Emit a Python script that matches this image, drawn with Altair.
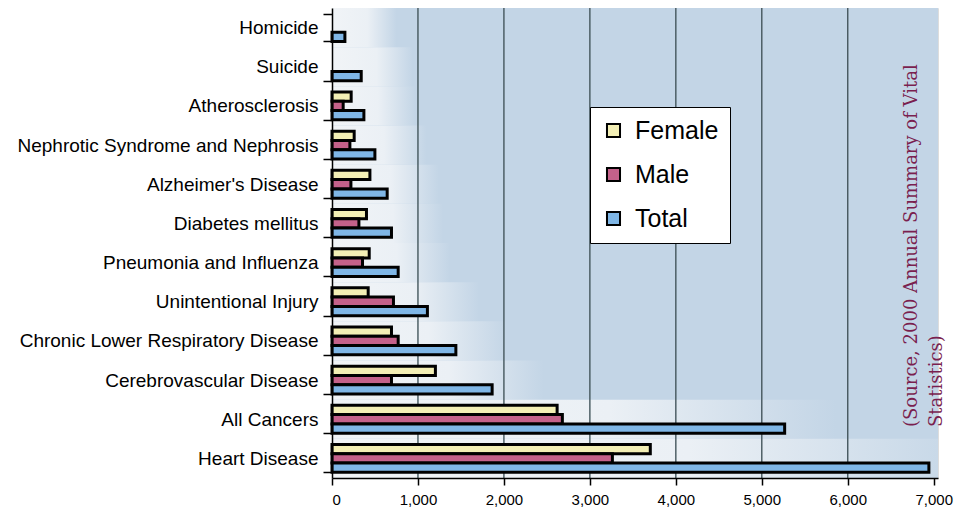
import altair as alt
import pandas as pd

categories = [
    "Homicide", "Suicide", "Atherosclerosis", "Nephrotic Syndrome and Nephrosis",
    "Alzheimer's Disease", "Diabetes mellitus", "Pneumonia and Influenza",
    "Unintentional Injury", "Chronic Lower Respiratory Disease",
    "Cerebrovascular Disease", "All Cancers", "Heart Disease",
]
female = [None, None, 223, 258, 441, 401, 433, 421, 692, 1203, 2619, 3703]
male = [None, None, 130, 208, 220, 313, 355, 715, 770, 692, 2680, 3262]
total = [150, 340, 371, 499, 642, 692, 770, 1110, 1441, 1863, 5266, 6944]
series = ["Female", "Male", "Total"]
colors = ["#f3efb5", "#c4618a", "#7fb6e6"]
x_ticks = [0, 1000, 2000, 3000, 4000, 5000, 6000, 7000]
grid_values = [1000, 2000, 3000, 4000, 5000, 6000]
source_lines = ["(Source, 2000 Annual Summary of Vital", "Statistics)"]

rows = []
for i, c in enumerate(categories):
    for s, vals in zip(series, [female, male, total]):
        if vals[i] is not None:
            rows.append({"cause": c, "sex": s, "deaths": vals[i]})
df = pd.DataFrame(rows)
halo_df = pd.DataFrame({"cause": categories, "total": total})

W, H = 606, 470
x_scale = alt.Scale(domain=[0, 7050], nice=False, zero=True)
y_scale = alt.Scale(domain=categories, paddingInner=0.29, paddingOuter=0.145)
BLUE = "#c3d5e6"

x_axis = alt.Axis(
    values=x_ticks, format=",d", title=None, grid=False,
    labelFontSize=15, labelColor="black", labelFont="Liberation Sans",
    tickSize=7, tickColor="black", tickWidth=1.5,
    domainColor="black", domainWidth=1.5, labelPadding=7, zindex=1,
)
y_axis = alt.Axis(
    title=None, tickBand="extent", grid=False,
    labelFontSize=19, labelColor="black", labelFont="Liberation Sans",
    tickSize=9, tickColor="black", tickWidth=1.5,
    domainColor="black", domainWidth=1.5, labelPadding=5, zindex=1,
    labelLimit=400,
)

bg = alt.Chart(alt.Data(values=[{}])).mark_rect(color=BLUE).encode(
    x=alt.value(0), x2=alt.value(W), y=alt.value(0), y2=alt.value(H)
)

halo = alt.Chart(halo_df).transform_calculate(
    reach="datum.total + 600"
).mark_bar(
    height={"band": 1.41},
    clip=True,
    fill=alt.LinearGradient(
        gradient="linear",
        stops=[
            alt.GradientStop(offset=0, color="#f1f4f7"),
            alt.GradientStop(offset=0.55, color="#ebf0f5"),
            alt.GradientStop(offset=1, color=BLUE),
        ],
        x1=0, x2=1, y1=0, y2=0,
    ),
).encode(
    x=alt.X("reach:Q", scale=x_scale, axis=x_axis),
    y=alt.Y("cause:N", scale=y_scale, sort=categories, axis=y_axis),
)

rules = alt.Chart(pd.DataFrame({"g": grid_values})).mark_rule(
    color="#44565c", strokeWidth=1.4
).encode(
    x=alt.X("g:Q", scale=x_scale, axis=x_axis),
    y=alt.value(0), y2=alt.value(H),
)

bars = alt.Chart(df).mark_bar(stroke="black", strokeWidth=3).encode(
    x=alt.X("deaths:Q", scale=x_scale, axis=x_axis),
    y=alt.Y("cause:N", scale=y_scale, sort=categories, axis=y_axis),
    yOffset=alt.YOffset("sex:N", sort=series,
                        scale=alt.Scale(domain=series, paddingInner=0, paddingOuter=0)),
    color=alt.Color(
        "sex:N", scale=alt.Scale(domain=series, range=colors),
        legend=alt.Legend(
            orient="none", legendX=258, legendY=99, title=None,
            labelFont="Liberation Sans", labelFontSize=25, labelColor="black",
            symbolType="square", symbolSize=170, symbolStrokeColor="black",
            symbolStrokeWidth=2, symbolOpacity=1,
            fillColor="white", strokeColor="black",
            padding=11, rowPadding=18, labelOffset=9,
        ),
    ),
)

note = alt.Chart(alt.Data(values=[{}])).mark_text(
    text=source_lines, angle=270, align="left", baseline="alphabetic",
    font="DejaVu Serif", fontSize=18, color="#7a1f4f", lineHeight=25,
).encode(x=alt.value(585), y=alt.value(419))

chart = alt.layer(bg, halo, rules, bars, note).properties(
    width=W, height=H,
    autosize=alt.AutoSizeParams(type="none"),
    padding={"left": 324, "top": 0, "right": 20, "bottom": 30},
).configure_view(stroke=None).configure(background="white")

chart.save("out.html", embed_options={"renderer": "svg", "actions": False})
